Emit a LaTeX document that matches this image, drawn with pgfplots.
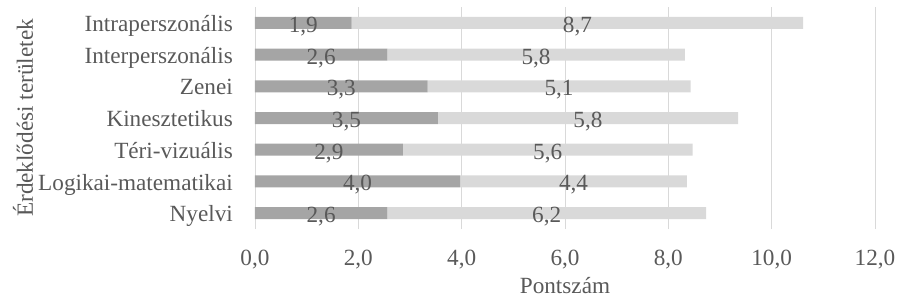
\documentclass[border=0pt]{standalone}
\usepackage{pgfplots}
\pgfplotsset{compat=1.18}
\usepackage{pgfplotstable}
\usepackage{fontspec}
\setmainfont{Liberation Serif}
\definecolor{txt}{HTML}{595959}
\definecolor{darkbar}{HTML}{A5A5A5}
\definecolor{lightbar}{HTML}{D9D9D9}
\definecolor{gridc}{HTML}{D9D9D9}

\pgfplotstableread{
idx a b
0 2.56 6.17
1 3.97 4.39
2 2.86 5.61
3 3.54 5.81
4 3.34 5.09
5 2.56 5.76
6 1.87 8.74
}\data

\begin{document}
\begin{tikzpicture}[font=\fontsize{23.2bp}{28bp}\selectfont, text=txt]
\useasboundingbox (-255bp,-73bp) rectangle (643bp,229bp);
\begin{axis}[
  at={(0,0)}, anchor=south west,
  scale only axis, width=620bp, height=222bp,
  xbar stacked, bar width=12bp,
  xmin=0, xmax=12, ymin=-0.5, ymax=6.5,
  xtick={0,2,...,12}, ytick={0,...,6},
  yticklabels={Nyelvi,Logikai-matematikai,Téri-vizuális,Kinesztetikus,Zenei,Interperszonális,Intraperszonális},
  axis line style={draw=none},
  major tick length=0pt,
  xmajorgrids, grid style={gridc, line width=0.75bp},
  /pgf/number format/use comma,
  /pgf/number format/fixed,
  /pgf/number format/fixed zerofill,
  /pgf/number format/precision=1,
  /pgf/number format/assume math mode=true,
  tick label style={text=txt, font=\fontsize{23.2bp}{28bp}\selectfont},
  xticklabel style={anchor=base, inner sep=0pt, yshift=-36.5bp},
  yticklabel style={anchor=base east, inner sep=0pt, xshift=-22bp, yshift=-8.6bp},
  nodes near coords,
  every node near coord/.append style={anchor=base, inner sep=0pt, yshift=-9.5bp, text=txt, font=\fontsize{23.2bp}{28bp}\selectfont},
]
\addplot[fill=darkbar, draw=none, point meta=\thisrow{a}] table[x=a, y=idx] {\data};
\addplot[fill=lightbar, draw=none, point meta=\thisrow{b}] table[x=b, y=idx] {\data};
\end{axis}
\node[rotate=90, anchor=base, text=txt] at (-222bp,111bp) {Érdeklődési területek};
\node[anchor=base, text=txt] at (310bp,-64bp) {Pontszám};
\end{tikzpicture}
\end{document}
